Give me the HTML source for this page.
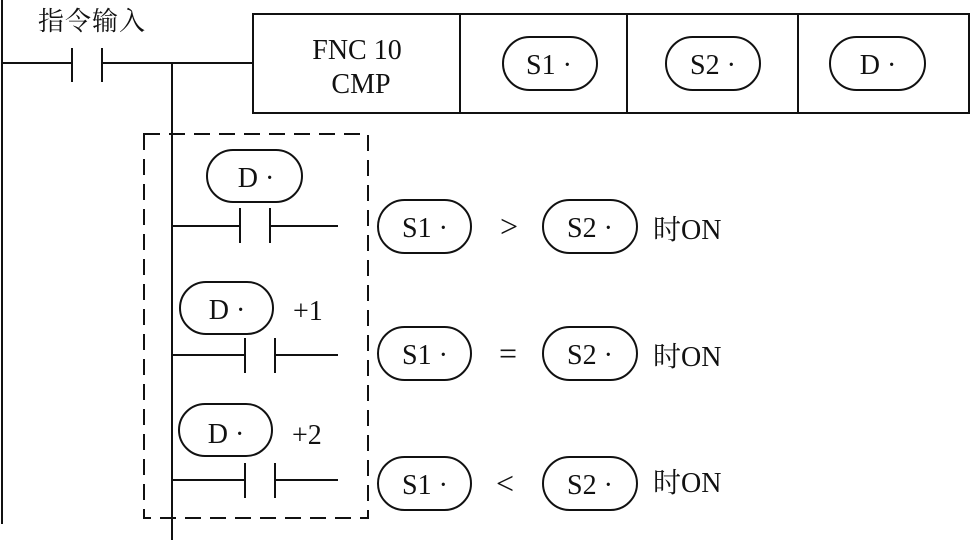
<!DOCTYPE html>
<html><head><meta charset="utf-8"><style>
html,body{margin:0;padding:0;background:#fff;}
svg{display:block}
text{font-family:"Liberation Serif","Noto Serif CJK SC",serif;fill:#111;}
</style></head><body>
<svg width="970" height="540" viewBox="0 0 970 540" xmlns="http://www.w3.org/2000/svg">
<g stroke="#111" stroke-width="2" fill="none">
<line x1="2" y1="0" x2="2" y2="524"/>
<line x1="2" y1="63" x2="72" y2="63"/>
<line x1="72" y1="48" x2="72" y2="82"/>
<line x1="102" y1="48" x2="102" y2="82"/>
<line x1="102" y1="63" x2="253" y2="63"/>
<line x1="172" y1="63" x2="172" y2="540"/>
<rect x="253" y="14" width="716" height="99"/>
<line x1="460" y1="14" x2="460" y2="113"/>
<line x1="627" y1="14" x2="627" y2="113"/>
<line x1="798" y1="14" x2="798" y2="113"/>
<rect x="503" y="37" width="94" height="53" rx="26.5"/>
<rect x="666" y="37" width="94" height="53" rx="26.5"/>
<rect x="830" y="37" width="95" height="53" rx="26.5"/>
<rect x="144" y="134" width="224" height="384" stroke-dasharray="16,9"/>
<rect x="207" y="150" width="95" height="52" rx="26"/>
<line x1="172" y1="226" x2="240" y2="226"/>
<line x1="240" y1="208" x2="240" y2="243"/>
<line x1="270" y1="208" x2="270" y2="243"/>
<line x1="270" y1="226" x2="338" y2="226"/>
<rect x="378" y="200" width="93" height="53" rx="26.5"/>
<rect x="543" y="200" width="94" height="53" rx="26.5"/>
<rect x="180" y="282" width="93" height="52" rx="26"/>
<line x1="172" y1="355" x2="245" y2="355"/>
<line x1="245" y1="338" x2="245" y2="373"/>
<line x1="275" y1="338" x2="275" y2="373"/>
<line x1="275" y1="355" x2="338" y2="355"/>
<rect x="378" y="327" width="93" height="53" rx="26.5"/>
<rect x="543" y="327" width="94" height="53" rx="26.5"/>
<rect x="179" y="404" width="93" height="52" rx="26"/>
<line x1="172" y1="480" x2="245" y2="480"/>
<line x1="245" y1="463" x2="245" y2="498"/>
<line x1="275" y1="463" x2="275" y2="498"/>
<line x1="275" y1="480" x2="338" y2="480"/>
<rect x="378" y="457" width="93" height="53" rx="26.5"/>
<rect x="543" y="457" width="94" height="53" rx="26.5"/>
</g>
<g font-size="28">
<text x="38" y="30" font-family="'Noto Sans CJK SC',sans-serif" font-size="26" letter-spacing="1">指令输入</text>
<text x="357" y="59" text-anchor="middle">FNC 10</text>
<text x="361" y="93" text-anchor="middle">CMP</text>
<text x="549" y="74" text-anchor="middle">S1 ·</text>
<text x="713" y="74" text-anchor="middle">S2 ·</text>
<text x="878" y="74" text-anchor="middle">D ·</text>
<text x="256" y="187" text-anchor="middle">D ·</text>
<text x="425" y="237" text-anchor="middle">S1 ·</text>
<text x="509" y="237" text-anchor="middle" font-size="32">&gt;</text>
<text x="590" y="237" text-anchor="middle">S2 ·</text>
<text x="653" y="239">时ON</text>
<text x="227" y="319" text-anchor="middle">D ·</text>
<text x="293" y="320">+1</text>
<text x="425" y="364" text-anchor="middle">S1 ·</text>
<text x="508" y="364" text-anchor="middle" font-size="32">=</text>
<text x="590" y="364" text-anchor="middle">S2 ·</text>
<text x="653" y="366">时ON</text>
<text x="226" y="443" text-anchor="middle">D ·</text>
<text x="292" y="444">+2</text>
<text x="425" y="494" text-anchor="middle">S1 ·</text>
<text x="505" y="494" text-anchor="middle" font-size="32">&lt;</text>
<text x="590" y="494" text-anchor="middle">S2 ·</text>
<text x="653" y="492">时ON</text>
</g>
</svg>
</body></html>
